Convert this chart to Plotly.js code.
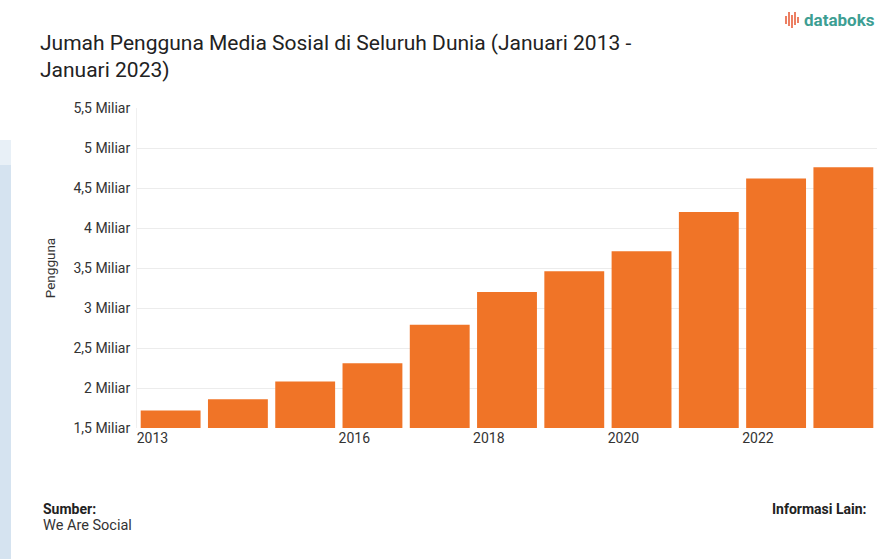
<!DOCTYPE html>
<html>
<head>
<meta charset="utf-8">
<script src="https://cdn.plot.ly/plotly-3.0.1.min.js"></script>
<style>
html,body{margin:0;padding:0;background:#fff;}
#chart{width:881px;height:559px;}
</style>
</head>
<body>
<div id="chart"></div>
<script>
// Data
const years = [2013, 2014, 2015, 2016, 2017, 2018, 2019, 2020, 2021, 2022, 2023];
const users = [1.72e9, 1.86e9, 2.08e9, 2.31e9, 2.79e9, 3.20e9, 3.46e9, 3.71e9, 4.20e9, 4.62e9, 4.76e9];
const xTickYears = [2013, 2016, 2018, 2020, 2022];
const yTickValues = [1.5e9, 2e9, 2.5e9, 3e9, 3.5e9, 4e9, 4.5e9, 5e9, 5.5e9];
const yTickLabels = ['1,5 Miliar', '2 Miliar', '2,5 Miliar', '3 Miliar', '3,5 Miliar', '4 Miliar', '4,5 Miliar', '5 Miliar', '5,5 Miliar'];

const W = 881, H = 559;
const L = 137, R = 4, T = 108, B = 131;
const pw = W - L - R, ph = H - T - B;
const px = x => (x - L) / pw;
const py = y => (H - B - y) / ph;

const trace = {
  type: 'bar',
  x: years.map(y => y + 0.5),
  y: users,
  width: 0.89,
  marker: {color: '#F07427'},
  hoverinfo: 'y'
};

const logoBars = [[786, 16, 24], [789, 12, 26], [792, 15, 28], [795, 12, 25], [798, 17, 23]];
const shapes = [
  {type: 'rect', xref: 'paper', yref: 'paper', x0: px(0), x1: px(11), y0: py(559), y1: py(165),
   fillcolor: '#d5e3f0', line: {width: 0}, layer: 'below'},
  {type: 'rect', xref: 'paper', yref: 'paper', x0: px(0), x1: px(11), y0: py(165), y1: py(140),
   fillcolor: '#e8f0f7', line: {width: 0}, layer: 'below'}
];
logoBars.forEach(b => shapes.push({
  type: 'line', xref: 'paper', yref: 'paper', x0: px(b[0]), x1: px(b[0]), y0: py(b[1]), y1: py(b[2]),
  line: {color: '#e8603c', width: 1.6}
}));

const layout = {
  width: W, height: H,
  margin: {l: L, r: R, t: T, b: B, pad: 0},
  paper_bgcolor: '#ffffff',
  plot_bgcolor: '#ffffff',
  font: {family: 'Roboto, "Open Sans", sans-serif', color: '#333'},
  title: {
    text: 'Jumah Pengguna Media Sosial di Seluruh Dunia (Januari 2013 -<br>Januari 2023)',
    xref: 'container', yref: 'container',
    x: 40 / W, xanchor: 'left',
    y: 1 - 50 / H, yanchor: 'top',
    font: {family: 'Roboto, sans-serif', size: 21, color: '#222'}
  },
  showlegend: false,
  bargap: 0.1,
  xaxis: {
    range: [2013, 2024],
    tickmode: 'array',
    tickvals: xTickYears.map(y => y + 0.23),
    ticktext: xTickYears.map(String),
    ticks: '',
    showgrid: false,
    zeroline: false,
    showline: false,
    tickfont: {size: 14, color: '#333'},
    fixedrange: true
  },
  yaxis: {
    range: [1.5e9, 5.5e9],
    tickmode: 'array',
    tickvals: yTickValues,
    ticktext: yTickLabels,
    ticks: '',
    ticklabelstandoff: 3,
    showgrid: true,
    gridcolor: '#ececec',
    gridwidth: 1,
    zeroline: false,
    showline: true,
    linecolor: '#f0f0f0',
    tickfont: {size: 14, color: '#333'},
    title: {text: 'Pengguna', font: {size: 13.5, color: '#333'}, standoff: 14},
    fixedrange: true
  },
  shapes: shapes,
  annotations: [
    {xref: 'paper', yref: 'paper', x: px(802), y: py(20), xanchor: 'left', yanchor: 'middle',
     text: '<b>databoks</b>', showarrow: false, font: {size: 17, color: '#3d9e93', family: 'Roboto, sans-serif'}},
    {xref: 'paper', yref: 'paper', x: px(41), y: py(509), xanchor: 'left', yanchor: 'middle',
     text: '<b>Sumber:</b>', showarrow: false, font: {size: 14, color: '#222'}},
    {xref: 'paper', yref: 'paper', x: px(41), y: py(525), xanchor: 'left', yanchor: 'middle',
     text: 'We Are Social', showarrow: false, font: {size: 14.5, color: '#333'}},
    {xref: 'paper', yref: 'paper', x: px(869), y: py(509), xanchor: 'right', yanchor: 'middle',
     text: '<b>Informasi Lain:</b>', showarrow: false, font: {size: 14, color: '#222'}}
  ]
};

Plotly.newPlot('chart', [trace], layout, {displayModeBar: false, staticPlot: true});
</script>
</body>
</html>
